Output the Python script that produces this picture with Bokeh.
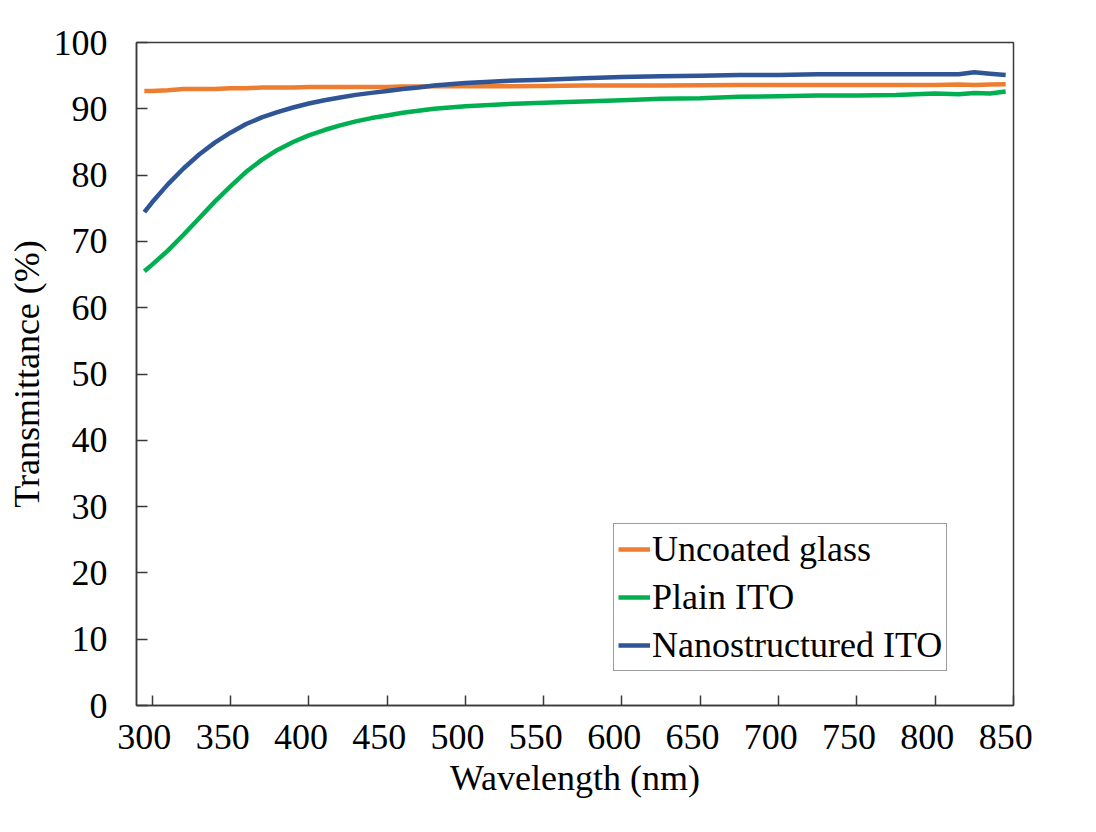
from bokeh.plotting import figure
from bokeh.models import (ColumnDataSource, FixedTicker, LinearAxis, Legend,
                          LegendItem, Range1d, CustomJSTickFormatter)
from bokeh.embed import file_html
from bokeh.resources import INLINE

# ---------------- data ----------------
wavelength = [295, 300, 310, 320, 330, 340, 350, 360, 370, 380, 390, 400, 410,
              420, 430, 440, 450, 460, 470, 480, 490, 500, 525, 550, 575, 600,
              625, 650, 675, 700, 725, 750, 775, 800, 815, 825, 835, 845]
uncoated_glass = [92.7, 92.7, 92.8, 93.0, 93.0, 93.0, 93.1, 93.1, 93.2, 93.2,
                  93.2, 93.3, 93.3, 93.3, 93.3, 93.3, 93.3, 93.35, 93.35, 93.4,
                  93.4, 93.4, 93.4, 93.45, 93.5, 93.5, 93.5, 93.55, 93.6, 93.6,
                  93.6, 93.6, 93.6, 93.6, 93.65, 93.6, 93.65, 93.7]
plain_ito = [65.5, 66.5, 68.6, 71.0, 73.5, 76.0, 78.3, 80.5, 82.3, 83.8, 85.0,
             86.0, 86.8, 87.5, 88.1, 88.6, 89.0, 89.4, 89.7, 90.0, 90.2, 90.4,
             90.7, 90.9, 91.1, 91.3, 91.5, 91.6, 91.8, 91.9, 92.0, 92.0, 92.1,
             92.3, 92.2, 92.4, 92.3, 92.6]
nano_ito = [74.4, 75.9, 78.6, 81.0, 83.1, 84.9, 86.4, 87.7, 88.7, 89.5, 90.2,
            90.8, 91.3, 91.7, 92.1, 92.4, 92.7, 93.0, 93.2, 93.5, 93.7, 93.9,
            94.2, 94.4, 94.6, 94.8, 94.9, 95.0, 95.1, 95.1, 95.2, 95.2, 95.2,
            95.2, 95.2, 95.5, 95.3, 95.1]

series_names = ["Uncoated glass", "Plain ITO", "Nanostructured ITO"]
series_colors = ["#ED7D31", "#00B050", "#2F5597"]

x_ticks = [300, 350, 400, 450, 500, 550, 600, 650, 700, 750, 800, 850]
x_tick_labels = [str(t) for t in x_ticks]
y_ticks = [0, 10, 20, 30, 40, 50, 60, 70, 80, 90, 100]

FONT = "Liberation Serif"
FS = "36px"
FRAME_COLOR = "#3a3a3a"

source = ColumnDataSource(dict(wl=wavelength, glass=uncoated_glass,
                               plain=plain_ito, nano=nano_ito))

p = figure(width=1096, height=832, output_backend="svg", toolbar_location=None,
           x_range=Range1d(290, 850), y_range=Range1d(0, 100),
           frame_width=877, frame_height=663,
           min_border_left=136, min_border_right=83,
           min_border_top=42, min_border_bottom=127,
           x_axis_location=None, y_axis_location=None)

p.background_fill_color = "white"
p.border_fill_color = "white"
p.outline_line_color = FRAME_COLOR
p.outline_line_width = 1.5
p.xgrid.visible = False
p.ygrid.visible = False

# ---- y axis ----
yax = LinearAxis(ticker=FixedTicker(ticks=y_ticks), axis_label="Transmittance (%)")
yax.major_tick_in = 11
yax.major_tick_out = 0
yax.minor_tick_line_color = None
yax.axis_line_color = FRAME_COLOR
yax.axis_line_width = 1.5
yax.major_tick_line_color = FRAME_COLOR
yax.major_tick_line_width = 1.5
yax.major_label_text_font = FONT
yax.major_label_text_font_size = FS
yax.major_label_text_color = "black"
yax.major_label_standoff = 29
yax.axis_label_text_font = FONT
yax.axis_label_text_font_size = FS
yax.axis_label_text_font_style = "normal"
yax.axis_label_text_color = "black"
yax.axis_label_standoff = 4
p.add_layout(yax, "left")

# ---- x axis: tick marks (no labels) ----
xax_ticks = LinearAxis(ticker=FixedTicker(ticks=x_ticks),
                       formatter=CustomJSTickFormatter(code="return ''"))
xax_ticks.major_tick_in = 10
xax_ticks.major_tick_out = 0
xax_ticks.minor_tick_line_color = None
xax_ticks.axis_line_color = FRAME_COLOR
xax_ticks.axis_line_width = 1.5
xax_ticks.major_tick_line_color = FRAME_COLOR
xax_ticks.major_tick_line_width = 1.5
xax_ticks.major_label_standoff = 0
xax_ticks.major_label_text_font_size = "1px"
p.add_layout(xax_ticks, "below")

# ---- x axis: labels (slightly left of ticks as in the reference) ----
label_shift = 5
shifted = [t - label_shift for t in x_ticks]
xax_labels = LinearAxis(ticker=FixedTicker(ticks=shifted),
                        axis_label="Wavelength (nm)")
xax_labels.major_label_overrides = {s: lab for s, lab in zip(shifted, x_tick_labels)}
xax_labels.axis_line_color = None
xax_labels.major_tick_line_color = None
xax_labels.minor_tick_line_color = None
xax_labels.major_label_text_font = FONT
xax_labels.major_label_text_font_size = FS
xax_labels.major_label_text_color = "black"
xax_labels.major_label_standoff = 13
xax_labels.axis_label_text_font = FONT
xax_labels.axis_label_text_font_size = FS
xax_labels.axis_label_text_font_style = "normal"
xax_labels.axis_label_text_color = "black"
xax_labels.axis_label_standoff = 6
p.add_layout(xax_labels, "below")

# ---- lines ----
r_glass = p.line("wl", "glass", source=source, line_color=series_colors[0],
                 line_width=4.5)
r_plain = p.line("wl", "plain", source=source, line_color=series_colors[1],
                 line_width=4.5)
r_nano = p.line("wl", "nano", source=source, line_color=series_colors[2],
                line_width=4.5)

legend = Legend(items=[LegendItem(label=series_names[0], renderers=[r_glass]),
                       LegendItem(label=series_names[1], renderers=[r_plain]),
                       LegendItem(label=series_names[2], renderers=[r_nano])],
                location=(477, 34))
legend.label_text_font = FONT
legend.label_text_font_size = FS
legend.label_text_color = "black"
legend.glyph_width = 32
legend.glyph_height = 32
legend.label_standoff = 2
legend.padding = 4
legend.spacing = 6
legend.margin = 0
legend.border_line_color = FRAME_COLOR
legend.border_line_width = 1.5
legend.background_fill_alpha = 1
p.add_layout(legend, "center")

open("out.html", "w").write(file_html(p, INLINE))
